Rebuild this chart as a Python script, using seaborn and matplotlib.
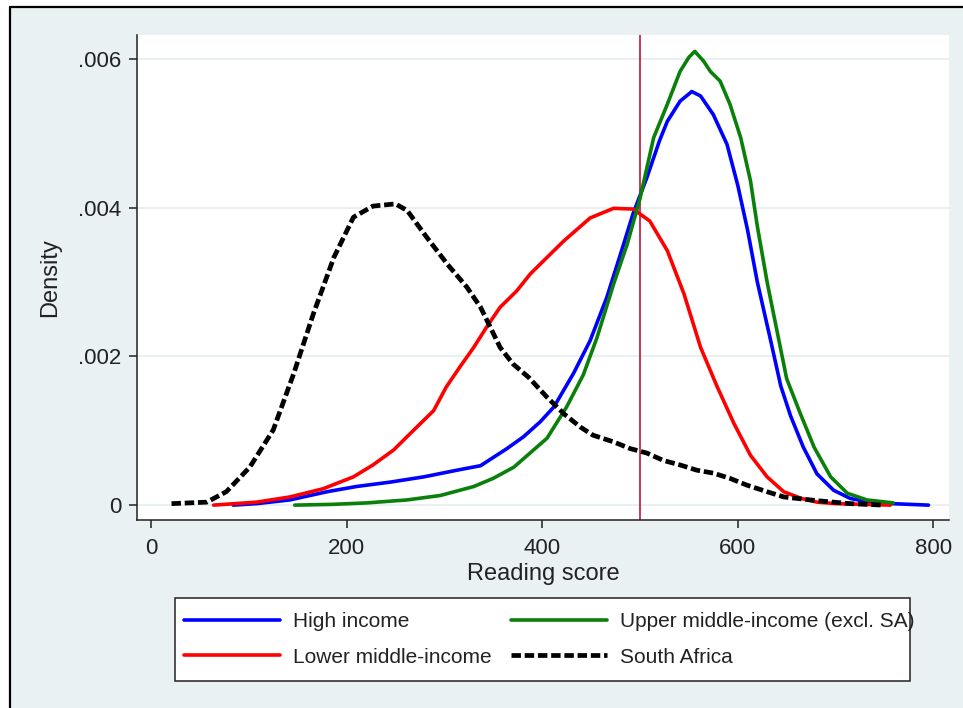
import matplotlib
matplotlib.use("Agg")
import matplotlib.pyplot as plt
from matplotlib.patches import Rectangle
from matplotlib.lines import Line2D
import seaborn as sns
import pandas as pd

# Kernel density estimates of reading scores, read as (score, density x 1e-3)
high_x = [84, 108, 142, 180, 210, 245, 279, 313, 337, 364, 381, 398, 412, 432, 449, 466, 480, 493, 507,
          520, 528, 541, 553, 562, 575, 589, 600, 610, 620, 633, 644, 654, 667, 681, 698, 715, 739, 795]
high_y = [0.0, 0.02, 0.07, 0.18, 0.25, 0.31, 0.38, 0.47, 0.53, 0.76, 0.92, 1.12, 1.32, 1.77, 2.21, 2.79, 3.37,
          3.92, 4.40, 4.90, 5.16, 5.43, 5.56, 5.50, 5.25, 4.85, 4.30, 3.70, 3.00, 2.25, 1.60, 1.20, 0.78, 0.42,
          0.20, 0.09, 0.03, 0.0]

upper_x = [147, 185, 221, 262, 296, 330, 350, 371, 405, 425, 442, 456, 473, 487, 500, 514, 528, 541, 550,
           556, 565, 572, 582, 592, 603, 613, 620, 630, 640, 650, 664, 678, 695, 712, 732, 759]
upper_y = [0.0, 0.01, 0.03, 0.07, 0.13, 0.25, 0.36, 0.51, 0.90, 1.32, 1.75, 2.25, 2.97, 3.51, 4.12, 4.94,
           5.39, 5.83, 6.02, 6.10, 5.97, 5.83, 5.70, 5.39, 4.94, 4.36, 3.75, 3.00, 2.35, 1.70, 1.23, 0.78,
           0.38, 0.16, 0.07, 0.03]

lower_x = [64, 108, 142, 176, 207, 227, 248, 268, 289, 302, 316, 330, 343, 357, 374, 388, 398, 422, 449,
           473, 493, 510, 528, 545, 562, 579, 596, 613, 630, 647, 665, 681, 700, 730, 756]
lower_y = [0.0, 0.04, 0.11, 0.22, 0.38, 0.54, 0.74, 1.00, 1.27, 1.59, 1.86, 2.12, 2.39, 2.66, 2.88, 3.11,
           3.24, 3.55, 3.86, 3.99, 3.98, 3.82, 3.42, 2.84, 2.12, 1.59, 1.10, 0.67, 0.38, 0.18, 0.09, 0.04,
           0.02, 0.01, 0.0]

sa_x = [21, 57, 77, 101, 125, 146, 166, 187, 207, 227, 250, 262, 282, 303, 323, 337, 347, 357, 370, 386,
        405, 422, 439, 452, 473, 490, 507, 524, 541, 558, 575, 592, 609, 630, 647, 681, 715, 749]
sa_y = [0.02, 0.04, 0.18, 0.51, 1.01, 1.77, 2.57, 3.33, 3.87, 4.02, 4.05, 3.96, 3.60, 3.24, 2.93, 2.66,
        2.39, 2.12, 1.90, 1.72, 1.45, 1.23, 1.05, 0.94, 0.85, 0.76, 0.70, 0.60, 0.54, 0.47, 0.43, 0.36,
        0.27, 0.18, 0.11, 0.06, 0.02, 0.0]

labels = ["High income", "Upper middle-income (excl. SA)", "Lower middle-income", "South Africa"]
benchmark = 500
x_ticks = [0, 200, 400, 600, 800]
y_ticks = [0, 0.002, 0.004, 0.006]
y_tick_labels = ["0", ".002", ".004", ".006"]

frames = []
for name, xs, ys in [(labels[0], high_x, high_y), (labels[1], upper_x, upper_y),
                     (labels[2], lower_x, lower_y), (labels[3], sa_x, sa_y)]:
    frames.append(pd.DataFrame({"score": xs, "density": [v / 1000 for v in ys], "group": name}))
df = pd.concat(frames, ignore_index=True)

sns.set_theme(style="white")
plt.rcParams["font.family"] = ["Liberation Sans", "DejaVu Sans"]

W, H = 963, 708
fig = plt.figure(figsize=(W / 100, H / 100), dpi=100, facecolor="white")

# graph region background with the frame on its left and top
bg = "#E9F1F2"
fig.add_artist(Rectangle((10 / W, 0), 1 - 10 / W, 1 - 7 / H, transform=fig.transFigure,
                         facecolor=bg, edgecolor="none", zorder=0))
fig.add_artist(Line2D([10 / W, 10 / W], [0, 1 - 7 / H], transform=fig.transFigure, color="black", lw=1.6))
fig.add_artist(Line2D([10 / W, 1], [1 - 7 / H, 1 - 7 / H], transform=fig.transFigure, color="black", lw=1.6))

ax = fig.add_axes([137 / W, 1 - 520 / H, (949 - 137) / W, (520 - 35) / H])
ax.set_facecolor("white")

LW = 2.6
SA_LW = 3.4
SA_DASH = (2.0, 0.8)

palette = {labels[0]: "#0000FF", labels[1]: "#0A800A", labels[2]: "#FF0000", labels[3]: "black"}
for name in [labels[0], labels[2], labels[1], labels[3]]:
    sub = df[df["group"] == name]
    style = dict(lw=LW)
    if name == labels[3]:
        style = dict(lw=SA_LW, dashes=SA_DASH)
    sns.lineplot(data=sub, x="score", y="density", ax=ax, color=palette[name], sort=False,
                 estimator=None, label=name, legend=False, zorder=3, **style)

ax.axvline(benchmark, color="#C0143C", lw=1.2, zorder=2)

ax.set_xlim(-14.3, 816)
ax.set_ylim(-0.0002, 0.00632)
ax.set_xticks(x_ticks)
ax.set_xticklabels([str(t) for t in x_ticks])
ax.set_yticks(y_ticks)
ax.set_yticklabels(y_tick_labels)
ax.grid(axis="y", color="#E6EFF0", lw=1.3)
ax.set_axisbelow(True)

for s in ["top", "right"]:
    ax.spines[s].set_visible(False)
for s in ["left", "bottom"]:
    ax.spines[s].set_color("#222222")
    ax.spines[s].set_linewidth(1.1)

ax.tick_params(axis="both", which="major", direction="out", color="#222222", width=1.1,
               labelsize=16, labelcolor="#222222")
ax.tick_params(axis="y", length=5.5, pad=6, left=True)
ax.tick_params(axis="x", length=6, pad=7, bottom=True)

ax.set_xlabel("Reading score", fontsize=17, color="#222222")
ax.set_ylabel("Density", fontsize=17, color="#222222")
ax.xaxis.set_label_coords(0.5, -0.088)
ax.yaxis.set_label_coords(-0.094, 0.5)

# legend box
fig.add_artist(Rectangle((175 / W, 1 - 681 / H), (910 - 175) / W, (681 - 598) / H,
                         transform=fig.transFigure, facecolor="white", edgecolor="#222222",
                         lw=1.1, zorder=1))
handles = [
    Line2D([], [], color=palette[labels[0]], lw=LW),
    Line2D([], [], color=palette[labels[2]], lw=LW),
    Line2D([], [], color=palette[labels[1]], lw=LW),
    Line2D([], [], color=palette[labels[3]], lw=SA_LW, dashes=SA_DASH),
]
leg = fig.legend(handles, [labels[0], labels[2], labels[1], labels[3]], ncol=2, frameon=False,
                 loc="upper left", bbox_to_anchor=(184 / W, 1 - 612 / H), borderpad=0,
                 borderaxespad=0, fontsize=15, handlelength=4.6, handletextpad=0.65,
                 columnspacing=0.9, labelspacing=0.8)
for t in leg.get_texts():
    t.set_color("#222222")

fig.savefig("out.png", dpi=100, facecolor="white")
